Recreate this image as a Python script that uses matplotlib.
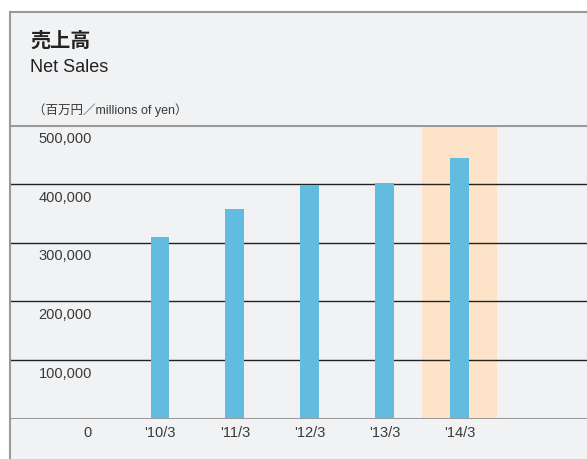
import matplotlib
matplotlib.use("Agg")
import matplotlib.pyplot as plt
from matplotlib.patches import Rectangle
from matplotlib import font_manager

# ─── Data ────────────────────────────────────────────────────────────────────

years  = ["'10/3", "'11/3", "'12/3", "'13/3", "'14/3"]
sales  = [309500, 357000, 398000, 402000, 444000]
yticks = [0, 100000, 200000, 300000, 400000, 500000]
highlight_idx = 4

# ─── Colors ──────────────────────────────────────────────────────────────────

BG     = "#F1F2F4"
BAR    = "#62BCE0"
HILITE = "#FDE3C8"
GRID   = "#222222"
EDGE   = "#9A9A9A"
TEXT   = "#3A3A3A"

names = {f.name for f in font_manager.fontManager.ttflist}
NARROW = "Liberation Sans Narrow" if "Liberation Sans Narrow" in names else "Liberation Sans"
FAM = [NARROW, "Noto Sans CJK JP"]

W, H = 587, 459
fig = plt.figure(figsize=(W / 100, H / 100), dpi=100, facecolor="white")

# panel background + border
fig.add_artist(Rectangle((10 / W, 0), 1, 1 - 12 / H, transform=fig.transFigure,
                         facecolor=BG, edgecolor="none", zorder=0))
fig.add_artist(plt.Line2D([10 / W, 10 / W], [0, 1 - 12 / H], transform=fig.transFigure,
                          color=EDGE, linewidth=1.5))
fig.add_artist(plt.Line2D([10 / W, 1], [1 - 12 / H, 1 - 12 / H], transform=fig.transFigure,
                          color=EDGE, linewidth=1.5))

ax = fig.add_axes([10 / W, 40 / H, 1 - 10 / W, (419 - 125) / H])
ax.set_facecolor("none")
ax.set_xlim(-2, 5.7)
ax.set_ylim(0, 500000)

x = list(range(len(years)))
ax.bar(highlight_idx, 500000, width=1.0, color=HILITE, zorder=1)
for v in yticks[1:-1]:
    ax.axhline(v, color=GRID, linewidth=1.0, zorder=2)
ax.axhline(0, color=EDGE, linewidth=2.2, zorder=4)
ax.axhline(500000, color=EDGE, linewidth=2.2, zorder=4)
ax.bar(x, sales, width=0.25, color=BAR, zorder=3)

for s in ax.spines.values():
    s.set_visible(False)
ax.set_xticks([])
ax.set_yticks([])

# y labels sit below each gridline
for v in yticks:
    ax.annotate(f"{v:,}", xy=(-0.907, v), xytext=(0, -10), textcoords="offset points",
                ha="right", va="center", fontsize=10.5, color=TEXT, family=FAM,
                annotation_clip=False)
for xi, lbl in zip(x, years):
    ax.annotate(lbl, xy=(xi, 0), xytext=(0, -10), textcoords="offset points",
                ha="center", va="center", fontsize=10.5, color=TEXT, family=FAM,
                annotation_clip=False)

# header
fig.text(30 / W, 1 - 40 / H, "売上高", fontsize=14.5, fontweight="bold", color="#222222",
         family=["Noto Sans CJK JP"], va="center")
fig.text(30 / W, 1 - 67 / H, "Net Sales", fontsize=13, color="#222222",
         family=FAM, va="center")
fig.text(33 / W, 1 - 110 / H, "（百万円／millions of yen）", fontsize=9, color=TEXT,
         family=FAM, va="center")

fig.savefig("out.png", dpi=100, facecolor="white")
